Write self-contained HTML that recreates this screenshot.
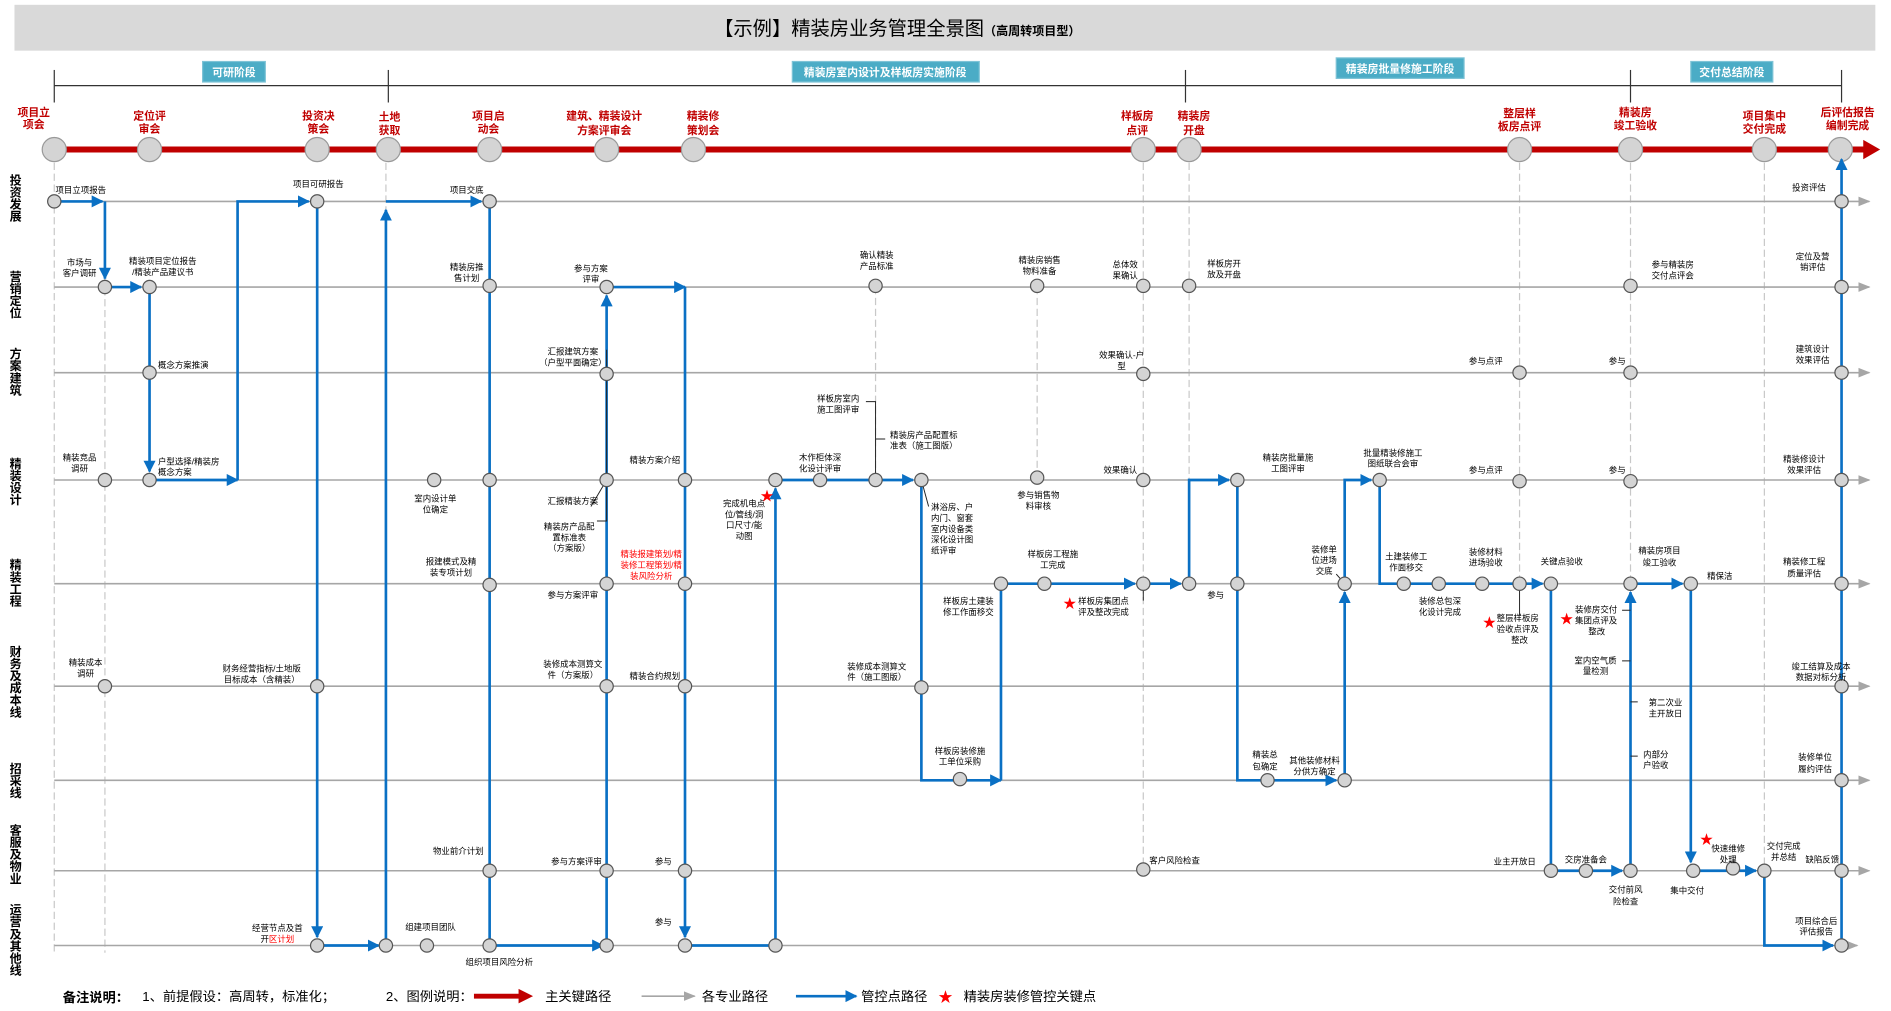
<!DOCTYPE html>
<html><head><meta charset="utf-8">
<style>
html,body{margin:0;padding:0;background:#fff;}
svg{display:block;}
text{font-family:"Liberation Sans","Noto Sans CJK SC",sans-serif;}
.s{font-size:7px;fill:#000;text-anchor:middle;}
.sl{font-size:7px;fill:#000;text-anchor:start;}
.sr{font-size:7px;fill:#000;text-anchor:end;}
.rd{fill:#ff0000;}
.m{font-size:9px;font-weight:bold;fill:#c00000;text-anchor:middle;}
.ln{font-size:10px;font-weight:bold;fill:#000;text-anchor:middle;}
.ph{font-size:9px;font-weight:bold;fill:#fff;text-anchor:middle;}
.lg{font-size:11px;fill:#000;}
.gl{stroke:#a6a6a6;stroke-width:1.3;fill:none;}
.dl{stroke:#c8c8c8;stroke-width:1;stroke-dasharray:6,3;fill:none;}
.bl{stroke:#0a70c4;stroke-width:2.2;fill:none;marker-end:url(#ab);}
.bn{stroke:#0a70c4;stroke-width:2.2;fill:none;}
.k{stroke:#222;stroke-width:0.8;fill:none;}
.n{fill:#d4d4d4;stroke:#555;stroke-width:1;}
.mn{fill:#d4d4d4;stroke:#999;stroke-width:1;}
.st{fill:#ff0000;font-size:11px;text-anchor:middle;}
</style></head>
<body>
<svg width="1891" height="1011" viewBox="0 0 1568 838.3" preserveAspectRatio="none" xmlns="http://www.w3.org/2000/svg">
<defs>
<marker id="ab" markerUnits="userSpaceOnUse" markerWidth="10" markerHeight="10" refX="9" refY="5" orient="auto"><path d="M0,0 L10,5 L0,10 z" fill="#0a70c4"/></marker>
<marker id="ag" markerUnits="userSpaceOnUse" markerWidth="10" markerHeight="10" refX="9" refY="5" orient="auto"><path d="M0,1 L10,5 L0,9 z" fill="#a6a6a6"/></marker>
</defs>
<rect x="12" y="4" width="1543" height="38" fill="#d9d9d9"/>
<text x="744" y="29" style="font-size:16px;text-anchor:middle;fill:#000">【示例】精装房业务管理全景图<tspan style="font-size:10px;font-weight:bold">（高周转项目型）</tspan></text>

<line x1="45" y1="71" x2="1527" y2="71" stroke="#333" stroke-width="1"/>
<line x1="45" y1="58" x2="45" y2="85" stroke="#333"/>
<line x1="322" y1="58" x2="322" y2="85" stroke="#333"/>
<line x1="983" y1="58" x2="983" y2="85" stroke="#333"/>
<line x1="1352" y1="58" x2="1352" y2="85" stroke="#333"/>
<line x1="1527" y1="58" x2="1527" y2="85" stroke="#333"/>
<rect x="168" y="51" width="52" height="17" fill="#4bacc6" stroke="#7ec3d6"/><text class="ph" x="194" y="63">可研阶段</text>
<rect x="657" y="51" width="155" height="17" fill="#4bacc6" stroke="#7ec3d6"/><text class="ph" x="734" y="63">精装房室内设计及样板房实施阶段</text>
<rect x="1108" y="48" width="106" height="17" fill="#4bacc6" stroke="#7ec3d6"/><text class="ph" x="1161" y="60">精装房批量修施工阶段</text>
<rect x="1402" y="51" width="68" height="17" fill="#4bacc6" stroke="#7ec3d6"/><text class="ph" x="1436" y="63">交付总结阶段</text>

<path class="dl" d="M45,135V790 M87,167V790 M320,135V790 M726,238V398 M860,238V398 M948,135V722 M986,135V484 M1260,135V484 M1352,135V484 M1463,135V722"/>

<g class="gl">
<path d="M45,167H1550" marker-end="url(#ag)"/>
<path d="M45,238H1550" marker-end="url(#ag)"/>
<path d="M45,309H1550" marker-end="url(#ag)"/>
<path d="M45,398H1550" marker-end="url(#ag)"/>
<path d="M45,484H1550" marker-end="url(#ag)"/>
<path d="M45,569H1550" marker-end="url(#ag)"/>
<path d="M45,647H1550" marker-end="url(#ag)"/>
<path d="M45,722H1550" marker-end="url(#ag)"/>
<path d="M45,784H1540" marker-end="url(#ag)"/>
</g>

<text class="ln" x="13"><tspan x="13" y="153">投</tspan><tspan x="13" y="163">资</tspan><tspan x="13" y="173">发</tspan><tspan x="13" y="183">展</tspan></text>
<text class="ln"><tspan x="13" y="233">营</tspan><tspan x="13" y="243">销</tspan><tspan x="13" y="253">定</tspan><tspan x="13" y="263">位</tspan></text>
<text class="ln"><tspan x="13" y="297">方</tspan><tspan x="13" y="307">案</tspan><tspan x="13" y="317">建</tspan><tspan x="13" y="327">筑</tspan></text>
<text class="ln"><tspan x="13" y="388">精</tspan><tspan x="13" y="398">装</tspan><tspan x="13" y="408">设</tspan><tspan x="13" y="418">计</tspan></text>
<text class="ln"><tspan x="13" y="472">精</tspan><tspan x="13" y="482">装</tspan><tspan x="13" y="492">工</tspan><tspan x="13" y="502">程</tspan></text>
<text class="ln"><tspan x="13" y="544">财</tspan><tspan x="13" y="554">务</tspan><tspan x="13" y="564">及</tspan><tspan x="13" y="574">成</tspan><tspan x="13" y="584">本</tspan><tspan x="13" y="594">线</tspan></text>
<text class="ln"><tspan x="13" y="641">招</tspan><tspan x="13" y="651">采</tspan><tspan x="13" y="661">线</tspan></text>
<text class="ln"><tspan x="13" y="692">客</tspan><tspan x="13" y="702">服</tspan><tspan x="13" y="712">及</tspan><tspan x="13" y="722">物</tspan><tspan x="13" y="732">业</tspan></text>
<text class="ln"><tspan x="13" y="758">运</tspan><tspan x="13" y="768">营</tspan><tspan x="13" y="778">及</tspan><tspan x="13" y="788">其</tspan><tspan x="13" y="798">他</tspan><tspan x="13" y="808">线</tspan></text>

<line x1="45" y1="124" x2="1546" y2="124" stroke="#c00000" stroke-width="5"/>
<polygon points="1545,116 1559,124 1545,132" fill="#c00000"/>
<g class="mn">
<circle cx="45" cy="124" r="10"/><circle cx="124" cy="124" r="10"/><circle cx="263" cy="124" r="10"/><circle cx="322" cy="124" r="10"/><circle cx="406" cy="124" r="10"/><circle cx="503" cy="124" r="10"/><circle cx="575" cy="124" r="10"/><circle cx="948" cy="124" r="10"/><circle cx="986" cy="124" r="10"/><circle cx="1260" cy="124" r="10"/><circle cx="1352" cy="124" r="10"/><circle cx="1463" cy="124" r="10"/><circle cx="1526" cy="124" r="10"/>
</g>
<text class="m"><tspan x="28" y="96">项目立</tspan><tspan x="28" y="106">项会</tspan></text>
<text class="m"><tspan x="124" y="99">定位评</tspan><tspan x="124" y="110">审会</tspan></text>
<text class="m"><tspan x="264" y="99">投资决</tspan><tspan x="264" y="110">策会</tspan></text>
<text class="m"><tspan x="323" y="100">土地</tspan><tspan x="323" y="111">获取</tspan></text>
<text class="m"><tspan x="405" y="99">项目启</tspan><tspan x="405" y="110">动会</tspan></text>
<text class="m"><tspan x="501" y="99">建筑、精装设计</tspan><tspan x="501" y="111">方案评审会</tspan></text>
<text class="m"><tspan x="583" y="99">精装修</tspan><tspan x="583" y="111">策划会</tspan></text>
<text class="m"><tspan x="943" y="99">样板房</tspan><tspan x="943" y="111">点评</tspan></text>
<text class="m"><tspan x="990" y="99">精装房</tspan><tspan x="990" y="111">开盘</tspan></text>
<text class="m"><tspan x="1260" y="97">整层样</tspan><tspan x="1260" y="108">板房点评</tspan></text>
<text class="m"><tspan x="1356" y="96">精装房</tspan><tspan x="1356" y="107">竣工验收</tspan></text>
<text class="m"><tspan x="1463" y="99">项目集中</tspan><tspan x="1463" y="110">交付完成</tspan></text>
<text class="m"><tspan x="1532" y="96">后评估报告</tspan><tspan x="1532" y="107">编制完成</tspan></text>

<path class="bl" d="M45,167H85"/>
<path class="bl" d="M87,167V231"/>
<path class="bl" d="M87,238H117"/>
<path class="bl" d="M124,238V391"/>
<path class="bl" d="M124,398H197"/>
<path class="bl" d="M197,398V167H256"/>
<path class="bl" d="M263,167V777"/>
<path class="bl" d="M263,784H314"/>
<path class="bl" d="M320,784V174"/>
<path class="bl" d="M320,167H399"/>
<path class="bl" d="M406,167V784H500"/>
<path class="bl" d="M503,784V245"/>
<path class="bl" d="M503,238H568"/>
<path class="bl" d="M568,238V777"/>
<path class="bl" d="M568,784H643V405"/>
<path class="bl" d="M643,398H757"/>
<path class="bl" d="M764,398V647H830"/>
<path class="bl" d="M830,647V484H941"/>
<path class="bl" d="M948,484H979"/>
<path class="bl" d="M986,484V398H1019"/>
<path class="bl" d="M1026,398V647H1108"/>
<path class="bl" d="M1115,647V491"/>
<path class="bl" d="M1115,484V398H1137"/>
<path class="bl" d="M1144,398V484H1279"/>
<path class="bl" d="M1286,484V722H1345"/>
<path class="bl" d="M1352,722V491"/>
<path class="bl" d="M1352,484H1395"/>
<path class="bl" d="M1402,484V715"/>
<path class="bl" d="M1404,722H1456"/>
<path class="bl" d="M1463,722V784H1520"/>
<path class="bl" d="M1527,784V132"/>

<path class="k" d="M503,398V290 M503,398L490,420 M503,398V432H495 M726,398V333H718 M726,364H734 M764,398L770,420 M948,484V498 M1260,484V510 M1352,506H1345 M1352,548H1345 M1352,582H1358 M1352,627H1358 M1115,484L1108,476"/>

<g class="n">
<circle cx="45" cy="167" r="5.5"/><circle cx="263" cy="167" r="5.5"/><circle cx="406" cy="167" r="5.5"/><circle cx="1527" cy="167" r="5.5"/>
<circle cx="87" cy="238" r="5.5"/><circle cx="124" cy="238" r="5.5"/><circle cx="406" cy="237" r="5.5"/><circle cx="503" cy="238" r="5.5"/><circle cx="726" cy="237" r="5.5"/><circle cx="860" cy="237" r="5.5"/><circle cx="948" cy="237" r="5.5"/><circle cx="986" cy="237" r="5.5"/><circle cx="1352" cy="237" r="5.5"/><circle cx="1527" cy="238" r="5.5"/>
<circle cx="124" cy="309" r="5.5"/><circle cx="503" cy="310" r="5.5"/><circle cx="948" cy="310" r="5.5"/><circle cx="1260" cy="309" r="5.5"/><circle cx="1352" cy="309" r="5.5"/><circle cx="1527" cy="309" r="5.5"/>
<circle cx="87" cy="398" r="5.5"/><circle cx="124" cy="398" r="5.5"/><circle cx="360" cy="398" r="5.5"/><circle cx="406" cy="398" r="5.5"/><circle cx="503" cy="398" r="5.5"/><circle cx="568" cy="398" r="5.5"/><circle cx="643" cy="398" r="5.5"/><circle cx="680" cy="398" r="5.5"/><circle cx="726" cy="398" r="5.5"/><circle cx="764" cy="398" r="5.5"/><circle cx="860" cy="396" r="5.5"/><circle cx="948" cy="398" r="5.5"/><circle cx="1026" cy="398" r="5.5"/><circle cx="1144" cy="398" r="5.5"/><circle cx="1260" cy="399" r="5.5"/><circle cx="1352" cy="399" r="5.5"/><circle cx="1527" cy="398" r="5.5"/>
<circle cx="406" cy="485" r="5.5"/><circle cx="503" cy="484" r="5.5"/><circle cx="568" cy="484" r="5.5"/><circle cx="830" cy="484" r="5.5"/><circle cx="866" cy="484" r="5.5"/><circle cx="948" cy="484" r="5.5"/><circle cx="986" cy="484" r="5.5"/><circle cx="1026" cy="484" r="5.5"/><circle cx="1115" cy="484" r="5.5"/><circle cx="1164" cy="484" r="5.5"/><circle cx="1193" cy="484" r="5.5"/><circle cx="1229" cy="484" r="5.5"/><circle cx="1260" cy="484" r="5.5"/><circle cx="1286" cy="484" r="5.5"/><circle cx="1352" cy="484" r="5.5"/><circle cx="1402" cy="484" r="5.5"/><circle cx="1527" cy="484" r="5.5"/>
<circle cx="87" cy="569" r="5.5"/><circle cx="263" cy="569" r="5.5"/><circle cx="503" cy="569" r="5.5"/><circle cx="568" cy="569" r="5.5"/><circle cx="764" cy="570" r="5.5"/><circle cx="1527" cy="569" r="5.5"/>
<circle cx="796" cy="646" r="5.5"/><circle cx="1051" cy="647" r="5.5"/><circle cx="1115" cy="647" r="5.5"/><circle cx="1527" cy="647" r="5.5"/>
<circle cx="406" cy="722" r="5.5"/><circle cx="503" cy="722" r="5.5"/><circle cx="568" cy="722" r="5.5"/><circle cx="948" cy="721" r="5.5"/><circle cx="1286" cy="722" r="5.5"/><circle cx="1315" cy="722" r="5.5"/><circle cx="1352" cy="722" r="5.5"/><circle cx="1404" cy="722" r="5.5"/><circle cx="1437" cy="720" r="5.5"/><circle cx="1463" cy="722" r="5.5"/><circle cx="1527" cy="722" r="5.5"/>
<circle cx="263" cy="784" r="5.5"/><circle cx="320" cy="784" r="5.5"/><circle cx="354" cy="784" r="5.5"/><circle cx="406" cy="784" r="5.5"/><circle cx="503" cy="784" r="5.5"/><circle cx="568" cy="784" r="5.5"/><circle cx="643" cy="784" r="5.5"/><circle cx="1527" cy="784" r="5.5"/>
</g>

<text class="sl" x="46" y="160">项目立项报告</text>
<text class="s" x="264" y="155">项目可研报告</text>
<text class="s" x="387" y="160">项目交底</text>
<text class="s" x="1500" y="158">投资评估</text>
<text class="s"><tspan x="66" y="220">市场与</tspan><tspan x="66" y="229">客户调研</tspan></text>
<text class="s"><tspan x="135" y="219">精装项目定位报告</tspan><tspan x="135" y="228">/精装产品建议书</tspan></text>
<text class="s"><tspan x="387" y="224">精装房推</tspan><tspan x="387" y="233">售计划</tspan></text>
<text class="s"><tspan x="490" y="225">参与方案</tspan><tspan x="490" y="234">评审</tspan></text>
<text class="s"><tspan x="727" y="214">确认精装</tspan><tspan x="727" y="223">产品标准</tspan></text>
<text class="s"><tspan x="862" y="218">精装房销售</tspan><tspan x="862" y="227">物料准备</tspan></text>
<text class="s"><tspan x="933" y="222">总体效</tspan><tspan x="933" y="231">果确认</tspan></text>
<text class="s"><tspan x="1015" y="221">样板房开</tspan><tspan x="1015" y="230">放及开盘</tspan></text>
<text class="s"><tspan x="1387" y="222">参与精装房</tspan><tspan x="1387" y="231">交付点评会</tspan></text>
<text class="s"><tspan x="1503" y="215">定位及营</tspan><tspan x="1503" y="224">销评估</tspan></text>
<text class="sl" x="131" y="305">概念方案推演</text>
<text class="s"><tspan x="475" y="294">汇报建筑方案</tspan><tspan x="475" y="303">（户型平面确定）</tspan></text>
<text class="s"><tspan x="930" y="297">效果确认-户</tspan><tspan x="930" y="306">型</tspan></text>
<text class="s" x="1232" y="302">参与点评</text>
<text class="s" x="1341" y="302">参与</text>
<text class="s"><tspan x="1503" y="292">建筑设计</tspan><tspan x="1503" y="301">效果评估</tspan></text>
<text class="s"><tspan x="66" y="382">精装竞品</tspan><tspan x="66" y="391">调研</tspan></text>
<text class="sl"><tspan x="131" y="385">户型选择/精装房</tspan><tspan x="131" y="394">概念方案</tspan></text>
<text class="s"><tspan x="361" y="416">室内设计单</tspan><tspan x="361" y="425">位确定</tspan></text>
<text class="s" x="543" y="384">精装方案介绍</text>
<text class="s" x="475" y="418">汇报精装方案</text>
<text class="s"><tspan x="472" y="439">精装房产品配</tspan><tspan x="472" y="448">置标准表</tspan><tspan x="472" y="457">（方案版）</tspan></text>
<text class="s"><tspan x="617" y="420">完成机电点</tspan><tspan x="617" y="429">位/管线/洞</tspan><tspan x="617" y="438">口尺寸/能</tspan><tspan x="617" y="447">动图</tspan></text>
<text class="st" x="636" y="415">★</text>
<text class="s"><tspan x="680" y="382">木作柜体深</tspan><tspan x="680" y="391">化设计评审</tspan></text>
<text class="s"><tspan x="695" y="333">样板房室内</tspan><tspan x="695" y="342">施工图评审</tspan></text>
<text class="sl"><tspan x="738" y="363">精装房产品配置标</tspan><tspan x="738" y="372">准表（施工图版）</tspan></text>
<text class="sl"><tspan x="772" y="423">淋浴房、户</tspan><tspan x="772" y="432">内门、窗套</tspan><tspan x="772" y="441">室内设备类</tspan><tspan x="772" y="450">深化设计图</tspan><tspan x="772" y="459">纸评审</tspan></text>
<text class="s"><tspan x="861" y="413">参与销售物</tspan><tspan x="861" y="422">料审核</tspan></text>
<text class="s" x="929" y="392">效果确认</text>
<text class="s"><tspan x="1068" y="382">精装房批量施</tspan><tspan x="1068" y="391">工图评审</tspan></text>
<text class="s"><tspan x="1155" y="378">批量精装修施工</tspan><tspan x="1155" y="387">图纸联合会审</tspan></text>
<text class="s" x="1232" y="392">参与点评</text>
<text class="s" x="1341" y="392">参与</text>
<text class="s"><tspan x="1496" y="383">精装修设计</tspan><tspan x="1496" y="392">效果评估</tspan></text>
<text class="s"><tspan x="374" y="468">报建模式及精</tspan><tspan x="374" y="477">装专项计划</tspan></text>
<text class="s" x="475" y="496">参与方案评审</text>
<text class="s rd"><tspan x="540" y="462">精装报建策划/精</tspan><tspan x="540" y="471">装修工程策划/精</tspan><tspan x="540" y="480">装风险分析</tspan></text>
<text class="s"><tspan x="873" y="462">样板房工程施</tspan><tspan x="873" y="471">工完成</tspan></text>
<text class="s"><tspan x="803" y="501">样板房土建装</tspan><tspan x="803" y="510">修工作面移交</tspan></text>
<text class="st" x="887" y="504">★</text>
<text class="sl"><tspan x="894" y="501">样板房集团点</tspan><tspan x="894" y="510">评及整改完成</tspan></text>
<text class="s" x="1008" y="496">参与</text>
<text class="s"><tspan x="1098" y="458">装修单</tspan><tspan x="1098" y="467">位进场</tspan><tspan x="1098" y="476">交底</tspan></text>
<text class="s"><tspan x="1166" y="464">土建装修工</tspan><tspan x="1166" y="473">作面移交</tspan></text>
<text class="s"><tspan x="1194" y="501">装修总包深</tspan><tspan x="1194" y="510">化设计完成</tspan></text>
<text class="s"><tspan x="1232" y="460">装修材料</tspan><tspan x="1232" y="469">进场验收</tspan></text>
<text class="s" x="1295" y="468">关键点验收</text>
<text class="st" x="1235" y="520">★</text>
<text class="sl"><tspan x="1241" y="515">整层样板房</tspan><tspan x="1241" y="524">验收点评及</tspan><tspan x="1253" y="533">整改</tspan></text>
<text class="st" x="1299" y="517">★</text>
<text class="sl"><tspan x="1306" y="508">装修房交付</tspan><tspan x="1306" y="517">集团点评及</tspan><tspan x="1317" y="526">整改</tspan></text>
<text class="s"><tspan x="1376" y="459">精装房项目</tspan><tspan x="1376" y="469">竣工验收</tspan></text>
<text class="s" x="1426" y="480">精保洁</text>
<text class="s"><tspan x="1496" y="468">精装修工程</tspan><tspan x="1496" y="478">质量评估</tspan></text>
<text class="s"><tspan x="71" y="552">精装成本</tspan><tspan x="71" y="561">调研</tspan></text>
<text class="s"><tspan x="217" y="557">财务经营指标/土地版</tspan><tspan x="217" y="566">目标成本（含精装）</tspan></text>
<text class="s"><tspan x="475" y="553">装修成本测算文</tspan><tspan x="475" y="562">件（方案版）</tspan></text>
<text class="s" x="543" y="563">精装合约规划</text>
<text class="s"><tspan x="727" y="555">装修成本测算文</tspan><tspan x="727" y="564">件（施工图版）</tspan></text>
<text class="s"><tspan x="1323" y="550">室内空气质</tspan><tspan x="1323" y="559">量检测</tspan></text>
<text class="s"><tspan x="1381" y="585">第二次业</tspan><tspan x="1381" y="594">主开放日</tspan></text>
<text class="s"><tspan x="1373" y="628">内部分</tspan><tspan x="1373" y="637">户验收</tspan></text>
<text class="s"><tspan x="1510" y="555">竣工结算及成本</tspan><tspan x="1510" y="564">数据对标分析</tspan></text>
<text class="s"><tspan x="796" y="625">样板房装修施</tspan><tspan x="796" y="634">工单位采购</tspan></text>
<text class="s"><tspan x="1049" y="628">精装总</tspan><tspan x="1049" y="638">包确定</tspan></text>
<text class="s"><tspan x="1090" y="633">其他装修材料</tspan><tspan x="1090" y="642">分供方确定</tspan></text>
<text class="s"><tspan x="1505" y="630">装修单位</tspan><tspan x="1505" y="640">履约评估</tspan></text>
<text class="s" x="380" y="708">物业前介计划</text>
<text class="s" x="478" y="717">参与方案评审</text>
<text class="s" x="550" y="717">参与</text>
<text class="sl" x="953" y="716">客户风险检查</text>
<text class="s" x="1256" y="717">业主开放日</text>
<text class="s" x="1315" y="715">交房准备会</text>
<text class="s"><tspan x="1348" y="740">交付前风</tspan><tspan x="1348" y="750">险检查</tspan></text>
<text class="s" x="1399" y="741">集中交付</text>
<text class="st" x="1415" y="700">★</text>
<text class="s"><tspan x="1433" y="706">快速维修</tspan><tspan x="1433" y="715">处理</tspan></text>
<text class="s"><tspan x="1479" y="704">交付完成</tspan><tspan x="1479" y="713">并总结</tspan></text>
<text class="s" x="1511" y="715">缺陷反馈</text>
<text class="s"><tspan x="230" y="772">经营节点及首</tspan><tspan x="230" y="781">开<tspan class="rd">区计划</tspan></tspan></text>
<text class="s" x="357" y="771">组建项目团队</text>
<text class="s" x="414" y="800">组织项目风险分析</text>
<text class="s" x="550" y="767">参与</text>
<text class="s"><tspan x="1506" y="766">项目综合后</tspan><tspan x="1506" y="775">评估报告</tspan></text>

<text class="lg" x="52" y="831" style="font-weight:bold">备注说明：</text>
<text class="lg" x="118" y="830">1、前提假设：高周转，标准化；</text>
<text class="lg" x="320" y="830">2、图例说明：</text>
<line x1="393" y1="826" x2="432" y2="826" stroke="#c00000" stroke-width="4"/>
<polygon points="430,820 442,826 430,832" fill="#c00000"/>
<text class="lg" x="452" y="830">主关键路径</text>
<path class="gl" d="M532,826H576" marker-end="url(#ag)"/>
<text class="lg" x="582" y="830">各专业路径</text>
<path class="bl" d="M660,826H710"/>
<text class="lg" x="714" y="830">管控点路径</text>
<text class="st" x="784" y="831" style="font-size:12px">★</text>
<text class="lg" x="799" y="830">精装房装修管控关键点</text>
</svg>
</body></html>
